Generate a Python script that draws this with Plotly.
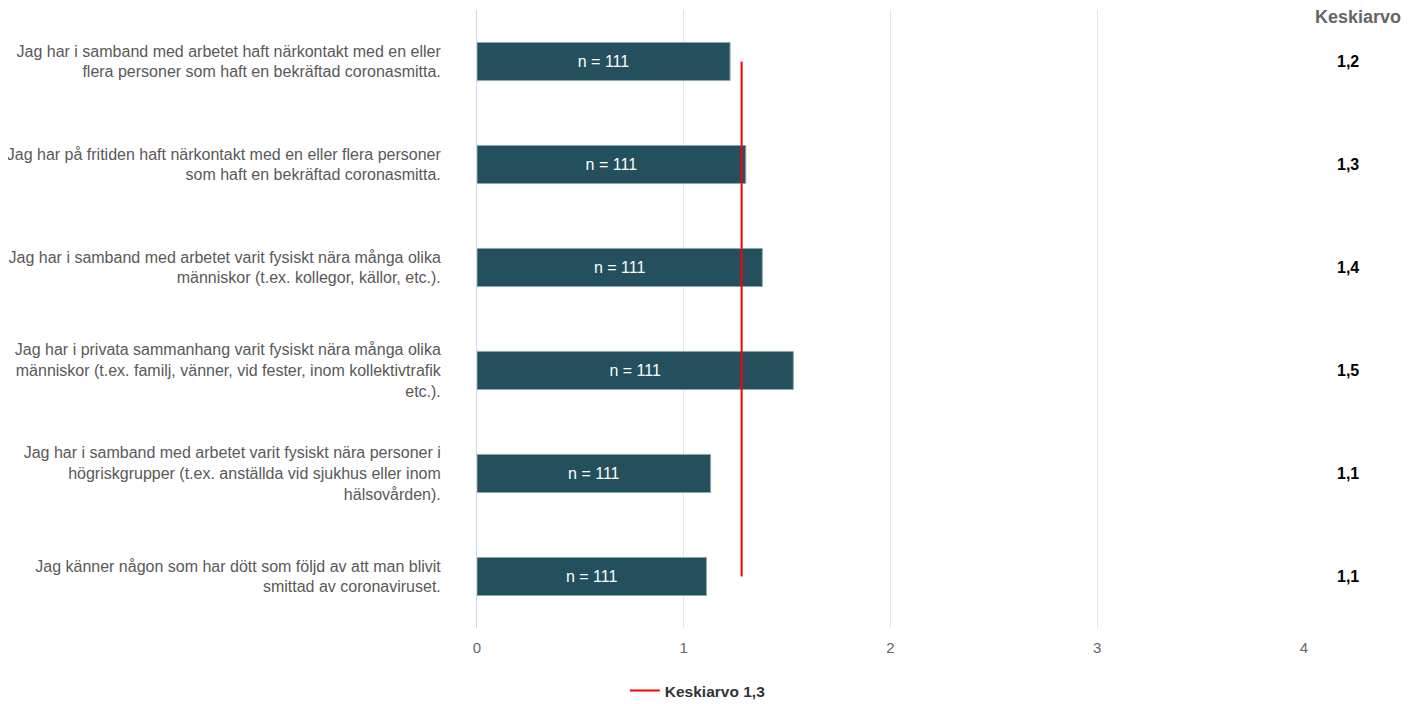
import plotly.graph_objects as go

categories = [
    "Jag har i samband med arbetet haft närkontakt med en eller<br>flera personer som haft en bekräftad coronasmitta.",
    "Jag har på fritiden haft närkontakt med en eller flera personer<br>som haft en bekräftad coronasmitta.",
    "Jag har i samband med arbetet varit fysiskt nära många olika<br>människor (t.ex. kollegor, källor, etc.).",
    "Jag har i privata sammanhang varit fysiskt nära många olika<br>människor (t.ex. familj, vänner, vid fester, inom kollektivtrafik<br>etc.).",
    "Jag har i samband med arbetet varit fysiskt nära personer i<br>högriskgrupper (t.ex. anställda vid sjukhus eller inom<br>hälsovården).",
    "Jag känner någon som har dött som följd av att man blivit<br>smittad av coronaviruset.",
]
values = [1.224, 1.30, 1.38, 1.53, 1.13, 1.11]
n_labels = ["n = 111"] * 6
mean_labels = ["1,2", "1,3", "1,4", "1,5", "1,1", "1,1"]
overall_mean = 1.28
legend_name = "<b>Keskiarvo 1,3</b>"
x_ticks = [0, 1, 2, 3, 4]

FONT = "Arial, Liberation Sans, sans-serif"
ids = list(range(len(categories)))

fig = go.Figure()
fig.add_trace(go.Bar(
    x=values, y=ids, orientation="h",
    marker=dict(color="#244F5C", line=dict(color="#8fa6ae", width=1)),
    width=0.37,
    text=n_labels, textposition="inside", insidetextanchor="middle",
    textfont=dict(color="white", size=16, family=FONT),
    showlegend=False, hoverinfo="x",
))
fig.add_trace(go.Scatter(
    x=[overall_mean] * len(ids), y=ids, mode="lines",
    line=dict(color="#ff0000", width=2), name=legend_name,
))

annotations = [dict(
    x=1.0653, y=1.0, xref="paper", yref="paper", text="<b>Keskiarvo</b>",
    showarrow=False, font=dict(size=18, color="#666666", family=FONT),
    xanchor="center", yanchor="middle", yshift=-7,
)]
for i, lab in enumerate(mean_labels):
    annotations.append(dict(
        x=1.0375, y=i, xref="paper", yref="y", text=f"<b>{lab}</b>",
        showarrow=False, font=dict(size=16, color="#000000", family=FONT),
        xanchor="left", yanchor="middle",
    ))

fig.update_layout(
    width=1405, height=696,
    margin=dict(l=469, r=109, t=2, b=76, autoexpand=False),
    plot_bgcolor="white", paper_bgcolor="white",
    font=dict(family=FONT),
    bargap=0.63,
    xaxis=dict(range=[0, 4], tickvals=x_ticks, ticktext=[str(t) for t in x_ticks],
               showgrid=True, gridcolor="#e6e6e6", gridwidth=1,
               zeroline=False, showline=False, ticks="", automargin=False,
               ticklabelstandoff=9,
               tickfont=dict(size=15, color="#666666"), fixedrange=True),
    yaxis=dict(tickvals=ids, ticktext=categories,
               autorange=False, range=[5.5, -0.5], showgrid=False, zeroline=False,
               showline=True, linecolor="#ccd6eb", linewidth=1, automargin=False,
               ticks="", ticklabelstandoff=32,
               tickfont=dict(size=16, color="#595959")),
    legend=dict(orientation="h", x=0.267, y=-0.102, xanchor="center", yanchor="middle",
                font=dict(size=15.5, color="#333333", family=FONT),
                itemwidth=30),
    annotations=annotations,
)
fig.write_html("out.html")
